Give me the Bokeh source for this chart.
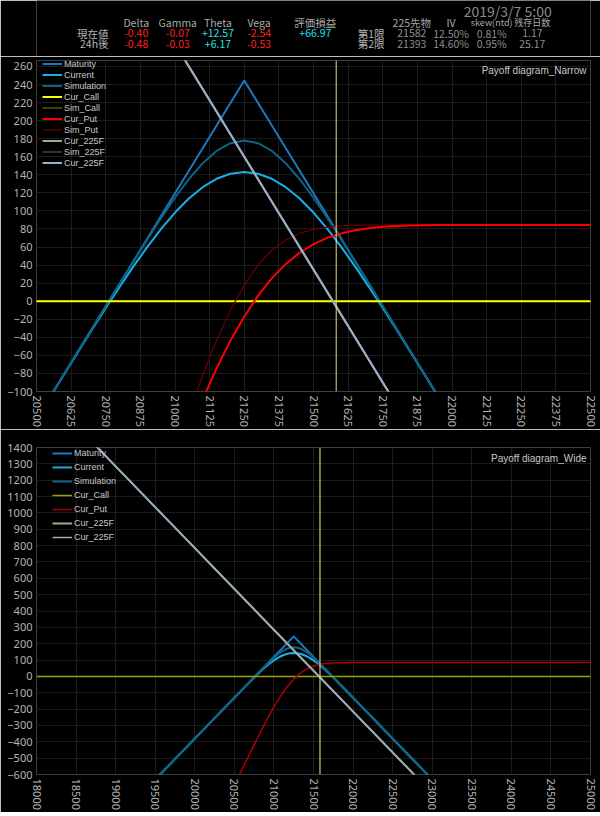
from bokeh.plotting import figure
from bokeh.models import Range1d, FixedTicker, Legend, LegendItem, Span, ColumnDataSource
from bokeh.layouts import column
from bokeh.embed import file_html
from bokeh.resources import INLINE
from bokeh.core.properties import value

# ---------------- data ----------------
# header
TIMESTAMP = "2019/3/7 5:00"
GREEK_NAMES = ["Delta", "Gamma", "Theta", "Vega", "評価損益"]
ROW_NAMES = ["現在値", "24h後"]
GREEKS_NOW = ["-0.40", "-0.07", "+12.57", "-2.54", "+66.97"]
GREEKS_24H = ["-0.48", "-0.03", "+6.17", "-0.53"]
MKT_NAMES = ["225先物", "IV", "skew(ntd)", "残存日数"]
CONTRACTS = ["第1限", "第2限"]
MKT_ROW1 = ["21582", "12.50%", "0.81%", "1.17"]
MKT_ROW2 = ["21393", "14.60%", "0.95%", "25.17"]

FUT_PRICE = 21582

# payoff at maturity (kinks)
MAT_X = [18000, 21250, 25000]
MATURITY = [-1380.5, 244.5, -1630.5]
# 225 futures (straight line)
FUT_X = [18000, 25000]
FUT_PNL = [1785.0, -1715.0]
# call legs (flat zero)
CALL_X = [18000, 25000]
CALL_PNL = [0.0, 0.0]

# curved series share this grid
X = [18000, 19000, 20000,
     20400, 20450, 20500, 20550, 20600, 20650, 20700, 20750, 20800, 20850,
     20900, 20950, 21000, 21050, 21100, 21150, 21200, 21250, 21300, 21350,
     21400, 21450, 21500, 21550, 21600, 21650, 21700, 21750, 21800, 21850,
     21900, 21950, 22000, 22050, 22100,
     22500, 23000, 25000]
CURRENT = [-1380.5, -880.5, -380.5,
           -180.5, -155.5, -130.6, -105.7, -80.9, -56.2, -31.7, -7.6, 15.8, 38.6,
           60.1, 80.2, 98.2, 113.7, 126.3, 135.6, 141.2, 143.0, 141.2, 135.6,
           126.3, 113.7, 98.2, 80.2, 60.1, 38.6, 15.8, -7.6, -31.7, -56.2,
           -80.9, -105.7, -130.6, -155.5, -180.5,
           -380.5, -630.5, -1630.5]
SIMULATION = [-1380.5, -880.5, -380.5,
              -180.5, -155.5, -130.5, -105.5, -80.5, -55.5, -30.5, -5.6, 19.3, 44.1,
              68.4, 92.1, 114.6, 135.2, 152.8, 166.4, 175.0, 178.0, 175.0, 166.4,
              152.8, 135.2, 114.6, 92.1, 68.4, 44.1, 19.3, -5.6, -30.5, -55.5,
              -80.5, -105.5, -130.5, -155.5, -180.5,
              -380.5, -630.5, -1630.5]
CUR_PUT = [-3165.5, -2165.5, -1165.5,
           -765.5, -715.5, -665.6, -615.7, -565.9, -516.2, -466.7, -417.6, -369.2, -321.4,
           -274.9, -229.8, -186.8, -146.3, -108.7, -74.4, -43.8, -17.0, 6.2, 25.6,
           41.3, 53.7, 63.2, 70.2, 75.1, 78.6, 80.8, 82.4, 83.3, 83.8,
           84.2, 84.4, 84.4, 84.5, 84.5,
           84.5, 84.5, 84.5]
SIM_PUT = [-3165.5, -2165.5, -1165.5,
           -765.5, -715.5, -665.5, -615.5, -565.5, -515.5, -465.5, -415.6, -365.7, -316.0,
           -266.6, -217.9, -170.4, -124.9, -82.2, -43.6, -10.0, 18.0, 40.0, 56.4,
           67.8, 75.2, 79.6, 82.1, 83.4, 84.0, 84.3, 84.4, 84.5, 84.5,
           84.5, 84.5, 84.5, 84.5, 84.5,
           84.5, 84.5, 84.5]

NARROW_X_TICKS = [20500, 20625, 20750, 20875, 21000, 21125, 21250, 21375, 21500,
                  21625, 21750, 21875, 22000, 22125, 22250, 22375, 22500]
NARROW_Y_TICKS = [-100, -80, -60, -40, -20, 0, 20, 40, 60, 80, 100, 120, 140,
                  160, 180, 200, 220, 240, 260]
WIDE_X_TICKS = [18000, 18500, 19000, 19500, 20000, 20500, 21000, 21500, 22000,
                22500, 23000, 23500, 24000, 24500, 25000]
WIDE_Y_TICKS = [-600, -500, -400, -300, -200, -100, 0, 100, 200, 300, 400, 500,
                600, 700, 800, 900, 1000, 1100, 1200, 1300, 1400]

# ---------------- styles ----------------
BG = "#000000"
GRID = "#1c1c1c"
TICK_COL = "#b4b4b4"
CJK = "Noto Sans CJK JP"
W = 600

# ---------------- header ----------------
hdr = figure(width=W, height=56, x_range=Range1d(0, W), y_range=Range1d(56, 0),
             x_axis_type=None, y_axis_type=None, output_backend="svg",
             toolbar_location=None, min_border=0, background_fill_color=BG,
             border_fill_color=BG, outline_line_color=None)
hdr.grid.visible = False

red = "#ff2020"
cyan = "#22e0ea"


def col(s):
    return red if s.startswith("-") else cyan


greek_x = [108, 153, 196.5, 241, 302]
mkt_x = [406.5, 449, 493, 537]
Y_HEAD, Y_R1, Y_R2 = 22, 32.5, 43

rows = {"x": [], "y": [], "t": [], "c": [], "s": [], "a": []}


def add(x, y, t, c, s="10.5px", a="center"):
    rows["x"].append(x); rows["y"].append(y); rows["t"].append(t)
    rows["c"].append(c); rows["s"].append(s); rows["a"].append(a)


for i, name in enumerate(GREEK_NAMES):
    add(greek_x[i], Y_HEAD, name, "#a8a8a8")
for i, v in enumerate(GREEKS_NOW):
    add(greek_x[i], Y_R1, v, col(v))
for i, v in enumerate(GREEKS_24H):
    add(greek_x[i], Y_R2, v, col(v))
for j, rn in enumerate(ROW_NAMES):
    add(78, (Y_R1, Y_R2)[j], rn, "#b4b4b4", a="right")
for i, name in enumerate(MKT_NAMES):
    add(mkt_x[i], Y_HEAD, name, "#a8a8a8", s=("10.5px" if i < 2 else "9px"))
for j, cn in enumerate(CONTRACTS):
    add(377, (Y_R1, Y_R2)[j], cn, "#b4b4b4", a="right")
for i, v in enumerate(MKT_ROW1):
    add(mkt_x[i], Y_R1, v, "#8e8e8e")
for i, v in enumerate(MKT_ROW2):
    add(mkt_x[i], Y_R2, v, "#8e8e8e")
add(558, 10.5, TIMESTAMP, "#8c8c8c", s="14px", a="right")

hdr.text(x="x", y="y", text="t", text_color="c", text_font_size="s", text_align="a",
         text_baseline="middle", text_font=value(CJK), source=ColumnDataSource(rows))


# ---------------- chart helper ----------------
def make_chart(height, top, xr, yr, xt, yt, title, title_dy):
    p = figure(width=W, height=height, x_range=Range1d(*xr), y_range=Range1d(*yr),
               output_backend="svg", toolbar_location=None,
               min_border_left=36, min_border_right=10, min_border_top=top,
               min_border_bottom=36, background_fill_color=BG, border_fill_color=BG,
               outline_line_color=None)
    p.xaxis.ticker = FixedTicker(ticks=xt)
    p.yaxis.ticker = FixedTicker(ticks=yt)
    for ax in (p.xaxis[0], p.yaxis[0]):
        ax.axis_line_color = None
        ax.major_tick_line_color = None
        ax.minor_tick_line_color = None
        ax.major_tick_out = 0
        ax.major_tick_in = 0
        ax.minor_tick_out = 0
        ax.minor_tick_in = 0
        ax.major_label_text_color = TICK_COL
        ax.major_label_text_font = "Noto Sans"
        ax.major_label_text_font_size = "11px"
    p.xaxis.major_label_orientation = "vertical"
    p.xaxis.major_label_standoff = 4
    p.yaxis.major_label_standoff = 4
    p.grid.grid_line_color = GRID
    p.grid.grid_line_width = 1
    p.text(x=[xr[1]], y=[yr[1]], text=[title], text_align="right", text_baseline="top",
           x_offset=-4, y_offset=title_dy, text_color="#c8c8c8",
           text_font=value("Liberation Sans"), text_font_size="10px")
    return p


def make_legend(items, loc, h):
    return Legend(items=items, location=loc, margin=0, padding=0, spacing=0,
                  glyph_height=h, glyph_width=20, label_height=h, label_standoff=2,
                  label_text_font="Liberation Sans", label_text_font_size="9px",
                  label_text_color="#c8c8c8", background_fill_alpha=0,
                  border_line_color=None, label_text_line_height=1.0)


# ---------------- narrow chart ----------------
# frame top sits a little above the 260 line so the legend fits
p1 = make_chart(373, 4, (20500, 22500), (-100, 266.6), NARROW_X_TICKS, NARROW_Y_TICKS,
                "Payoff diagram_Narrow", 4)
r_mat = p1.line(MAT_X, MATURITY, line_color="#1c78c0", line_width=2)
r_cur = p1.line(X, CURRENT, line_color="#1cace6", line_width=2)
r_sim = p1.line(X, SIMULATION, line_color="#0e6284", line_width=2)
r_scall = p1.line(CALL_X, CALL_PNL, line_color="#808000", line_width=1)
r_ccall = p1.line(CALL_X, CALL_PNL, line_color="#ffff00", line_width=2)
r_sput = p1.line(X, SIM_PUT, line_color="#6a0000", line_width=1.2)
r_cput = p1.line(X, CUR_PUT, line_color="#ff0000", line_width=2)
r_cf1 = p1.line(FUT_X, FUT_PNL, line_color="#a8a884", line_width=2)
r_sf = p1.line(FUT_X, FUT_PNL, line_color="#66664a", line_width=1)
r_cf2 = p1.line(FUT_X, FUT_PNL, line_color="#98aecb", line_width=2)
p1.add_layout(Span(location=FUT_PRICE, dimension="height", line_color="#e8df80", line_width=1))

items1 = [LegendItem(label="Maturity", renderers=[r_mat]),
          LegendItem(label="Current", renderers=[r_cur]),
          LegendItem(label="Simulation", renderers=[r_sim]),
          LegendItem(label="Cur_Call", renderers=[r_ccall]),
          LegendItem(label="Sim_Call", renderers=[r_scall]),
          LegendItem(label="Cur_Put", renderers=[r_cput]),
          LegendItem(label="Sim_Put", renderers=[r_sput]),
          LegendItem(label="Cur_225F", renderers=[r_cf1]),
          LegendItem(label="Sim_225F", renderers=[r_sf]),
          LegendItem(label="Cur_225F", renderers=[r_cf2])]
p1.add_layout(make_legend(items1, (6, 223), 11))

# ---------------- wide chart ----------------
p2 = make_chart(383, 18, (18000, 25000), (-600, 1400), WIDE_X_TICKS, WIDE_Y_TICKS,
                "Payoff diagram_Wide", 5)
w_mat = p2.line(MAT_X, MATURITY, line_color="#1c78c0", line_width=2)
w_cur = p2.line(X, CURRENT, line_color="#1cace6", line_width=2)
w_sim = p2.line(X, SIMULATION, line_color="#0e6284", line_width=2)
w_call = p2.line(CALL_X, CALL_PNL, line_color="#a0a000", line_width=1.5)
w_put = p2.line(X, CUR_PUT, line_color="#aa0000", line_width=1.5)
w_f1 = p2.line(FUT_X, FUT_PNL, line_color="#a8a884", line_width=2)
w_f2 = p2.line(FUT_X, FUT_PNL, line_color="#98aecb", line_width=1.5)
p2.add_layout(Span(location=FUT_PRICE, dimension="height", line_color="#f5f09a", line_width=1))

items2 = [LegendItem(label="Maturity", renderers=[w_mat]),
          LegendItem(label="Current", renderers=[w_cur]),
          LegendItem(label="Simulation", renderers=[w_sim]),
          LegendItem(label="Cur_Call", renderers=[w_call]),
          LegendItem(label="Cur_Put", renderers=[w_put]),
          LegendItem(label="Cur_225F", renderers=[w_f1]),
          LegendItem(label="Cur_225F", renderers=[w_f2])]
p2.add_layout(make_legend(items2, (16, 230), 14))

layout = column(hdr, p1, p2, spacing=0)
open("out.html", "w").write(file_html(layout, INLINE))
